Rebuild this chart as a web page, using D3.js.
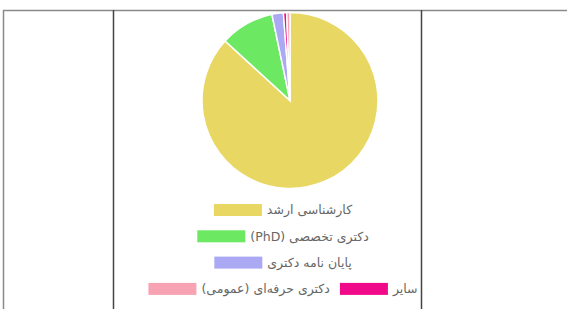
<!DOCTYPE html>
<html>
<head>
<meta charset="utf-8">
<script src="https://cdn.jsdelivr.net/npm/d3@7"></script>
<style>
  body { margin: 0; background: #fff; }
  svg { display: block; }
</style>
</head>
<body>
<svg id="chart"></svg>
<script>
// data (percent)
const labels = ['کارشناسی ارشد', 'دکتری تخصصی (PhD)', 'پایان نامه دکتری', 'سایر', 'دکتری حرفه‌ای (عمومی)'];
const values = [86.8, 9.9, 2.1, 0.6, 0.6];
const colors = ['#e9d764', '#6ce863', '#aba9f3', '#f00a8a', '#f7a3b3'];
// legend rows (indices into labels, right to left)
const legendRows = [[0], [1], [2], [3, 4]];

const width = 567;
const height = 309;

const svg = d3.select('#chart')
  .attr('width', width)
  .attr('height', height);

// table frame around the chart
const frame = svg.append('g')
  .attr('fill', 'none')
  .attr('stroke-width', 1.5);

frame.append('line')
  .attr('x1', 3).attr('x2', width).attr('y1', 10.5).attr('y2', 10.5)
  .attr('stroke', '#8a8a8a');

[[3.5, '#8a8a8a'], [113.5, '#444'], [421.5, '#444']].forEach(([x, c]) => {
  frame.append('line')
    .attr('x1', x).attr('x2', x).attr('y1', 10).attr('y2', height)
    .attr('stroke', c);
});

// pie
const cx = 290;
const cy = 100.5;
const radius = 88;

const pie = d3.pie().sort(null).value(d => d.value);
const arc = d3.arc().innerRadius(0).outerRadius(radius);

const data = labels.map((l, i) => ({ label: l, value: values[i], color: colors[i] }));

svg.append('g')
  .attr('transform', `translate(${cx}, ${cy})`)
  .selectAll('path')
  .data(pie(data))
  .join('path')
  .attr('d', arc)
  .attr('fill', d => d.data.color)
  .attr('stroke', '#fff')
  .attr('stroke-width', 1.5);

// legend
const boxW = 48;
const boxH = 12;
const gap = 5;
const itemGap = 10;
const legendCenter = 283;
const rowY0 = 210;
const rowStep = 26.3;

const legend = svg.append('g')
  .style('font-family', '"DejaVu Sans", sans-serif')
  .style('font-size', '12.5px');

legendRows.forEach((row, r) => {
  const y = rowY0 + r * rowStep;
  // measure items
  const items = row.map(i => {
    const t = legend.append('text')
      .attr('direction', 'rtl')
      .attr('text-anchor', 'start')
      .attr('fill', '#666')
      .attr('dy', '0.35em')
      .text(labels[i]);
    const w = t.node().getComputedTextLength();
    return { i, t, w, total: boxW + gap + w };
  });
  const rowWidth = d3.sum(items, d => d.total) + itemGap * (items.length - 1);
  let right = legendCenter + rowWidth / 2;
  items.forEach(it => {
    it.t.attr('x', right).attr('y', y);
    const boxX = right - it.w - gap - boxW;
    legend.append('rect')
      .attr('x', boxX)
      .attr('y', y - boxH / 2)
      .attr('width', boxW)
      .attr('height', boxH)
      .attr('fill', colors[it.i]);
    right = boxX - itemGap;
  });
});
</script>
</body>
</html>
